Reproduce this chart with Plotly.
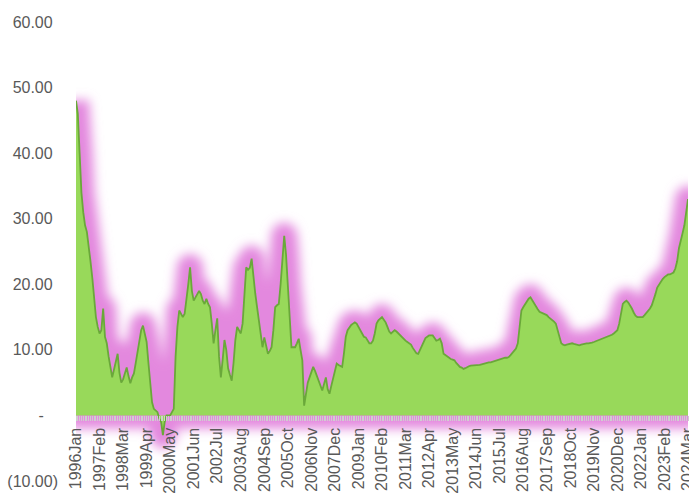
import plotly.graph_objects as go

# Monthly series, 1996Jan .. 2024Mar
month_abbr = ["Jan", "Feb", "Mar", "Apr", "May", "Jun",
              "Jul", "Aug", "Sep", "Oct", "Nov", "Dec"]
months = [f"{y}{m}" for y in range(1996, 2025) for m in month_abbr][:339]

values = [
    # 1996
    48, 46, 40, 34, 31, 29, 28, 26, 23.5, 21, 18, 15,
    # 1997
    13.5, 12.5, 13, 16.3, 12, 11, 9, 7, 5.8, 7, 8.5, 9.4,
    # 1998
    6.5, 5, 5.5, 6.5, 7.3, 6, 4.9, 5.8, 6.4, 8, 9.5, 11.5,
    # 1999
    13, 13.7, 12.5, 11.2, 8, 5, 2, 1, 0.8, 0.5, -0.5, -1,
    # 2000
    -3, -1, 0, 0, 0, 0.5, 1, 9, 13.5, 16, 15.5, 15,
    # 2001
    15.5, 17.5, 20, 22.6, 19, 17.5, 18, 18.6, 19, 18.5, 17.5, 17,
    # 2002
    17.8, 17, 16.5, 14, 11, 13, 14.8, 9, 5.8, 8.5, 11.5, 10,
    # 2003
    7.2, 6.2, 5.3, 8, 11.5, 13.5, 13, 12.5, 14, 19, 22.6, 22.2,
    # 2004
    22.5, 23.9, 21, 18.6, 16.5, 14.5, 12, 10.4, 11.9, 10.5, 9.4, 9.8,
    # 2005
    10.4, 13, 16.5, 16.8, 17, 20, 23.5, 27.4, 24.5, 20, 14, 10.4,
    # 2006
    10.4, 10.4, 11, 11.7, 10, 8.4, 1.5, 3, 5, 5.8, 6.5, 7.4,
    # 2007
    6.8, 6, 5.3, 4.5, 3.8, 4.8, 5.8, 4, 3.3, 4.5, 5.5, 6.8,
    # 2008
    7.9, 7.7, 7.5, 7.4, 9.5, 12, 13, 13.5, 13.8, 14, 14.2, 14,
    # 2009
    13.5, 13, 12.5, 12, 11.9, 11.5, 11, 11, 11.4, 12.5, 14, 14.5,
    # 2010
    14.8, 15, 14.6, 14.2, 13.5, 12.8, 12.5, 12.8, 13, 12.8, 12.5, 12.2,
    # 2011
    12, 11.7, 11.4, 11.2, 11, 10.8, 10.3, 9.9, 9.5, 9.4, 10, 10.8,
    # 2012
    11.4, 11.8, 12, 12.2, 12.2, 12.2, 11.8, 11.4, 11.5, 11.7, 11, 9.4,
    # 2013
    9.2, 9, 8.7, 8.6, 8.5, 8.4, 8, 7.6, 7.4, 7.3, 7.1, 7.2,
    # 2014
    7.4, 7.5, 7.6, 7.6, 7.6, 7.6, 7.6, 7.7, 7.8, 7.9, 8, 8,
    # 2015
    8.1, 8.1, 8.2, 8.3, 8.4, 8.4, 8.5, 8.6, 8.7, 8.8, 8.8, 8.9,
    # 2016
    9.2, 9.5, 9.8, 10.2, 11, 14, 16, 16.5, 17, 17.5, 17.8, 18,
    # 2017
    17.6, 17.2, 16.8, 16.2, 15.8, 15.7, 15.6, 15.5, 15.3, 15, 14.8, 14.6,
    # 2018
    14.3, 14, 13, 11.8, 11, 10.8, 10.7, 10.8, 10.9, 11, 11, 10.9,
    # 2019
    10.8, 10.7, 10.7, 10.8, 10.9, 11, 11, 11, 11, 11.1, 11.2, 11.3,
    # 2020
    11.5, 11.6, 11.7, 11.8, 11.9, 12, 12.1, 12.2, 12.3, 12.5, 12.7, 13,
    # 2021
    14, 15.5, 17, 17.3, 17.5, 17.2, 16.8, 16.3, 15.7, 15.2, 15, 15,
    # 2022
    15, 15, 15.3, 15.6, 16, 16.3, 16.8, 17.5, 18.5, 19.5, 20, 20.5,
    # 2023
    20.8, 21.1, 21.3, 21.5, 21.5, 21.6, 21.8, 22.4, 23.5, 25.5, 26.5, 27.8,
    # 2024
    29, 31, 33,
]

tick_labels = [
    "1996Jan", "1997Feb", "1998Mar", "1999Apr", "2000May", "2001Jun",
    "2002Jul", "2003Aug", "2004Sep", "2005Oct", "2006Nov", "2007Dec",
    "2009Jan", "2010Feb", "2011Mar", "2012Apr", "2013May", "2014Jun",
    "2015Jul", "2016Aug", "2017Sep", "2018Oct", "2019Nov", "2020Dec",
    "2022Jan", "2023Feb", "2024Mar",
]

y_ticks = [-10, 0, 10, 20, 30, 40, 50, 60]
# accounting-style labels; an invisible ")" keeps positives aligned with "(10.00)"
PAD = '<span style="color:rgba(0,0,0,0)">)</span>'
y_tick_text = ["(10.00)", '-<span style="color:rgba(0,0,0,0)">0)</span>'] + \
    [f"{v:.2f}{PAD}" for v in y_ticks[2:]]

FONT = "Liberation Sans, Arial, sans-serif"
TEXT_GREY = "#595959"

fig = go.Figure()

# Pink glow: closed outline (top edge + baseline), softened by a blur filter
glow_x = months + [months[-1], months[0], months[0]]
glow_y = values + [0, 0, values[0]]
fig.add_trace(go.Scatter(
    x=glow_x, y=glow_y, mode="lines",
    line=dict(color="#e388de", width=26, shape="linear"),
    hoverinfo="skip", showlegend=False,
))

# Green area
fig.add_trace(go.Scatter(
    x=months, y=values, mode="lines", fill="tozeroy",
    fillcolor="#98d95a",
    line=dict(color="#6aa83a", width=1.8),
    showlegend=False,
))

fig.update_layout(
    width=689, height=496,
    margin=dict(l=76, r=1, t=22, b=15),
    plot_bgcolor="white", paper_bgcolor="white",
    showlegend=False,
    xaxis=dict(
        type="category",
        range=[0, len(months) - 1],
        tickmode="array",
        tickvals=months,
        ticktext=[m if m in tick_labels else "" for m in months],
        tickangle=-90,
        ticks="outside", ticklen=5, tickcolor="#cfcfcf", tickwidth=1,
        anchor="free", position=10 / 70,
        showgrid=False, zeroline=False, showline=False,
        automargin=False,
        tickfont=dict(family=FONT, size=16, color=TEXT_GREY),
    ),
    yaxis=dict(
        range=[-10, 60],
        tickmode="array", tickvals=y_ticks, ticktext=y_tick_text,
        ticks="", showgrid=False, zeroline=False, showline=False,
        ticklabelstandoff=17,
        automargin=False,
        tickfont=dict(family=FONT, size=16, color=TEXT_GREY),
    ),
)

# Gaussian blur on the glow outline
glow_js = """
(function(){
  var gd = document.getElementById('{plot_id}');
  var svg = gd.querySelector('svg.main-svg');
  var ns = 'http://www.w3.org/2000/svg';
  var defs = svg.querySelector('defs');
  if (!defs) { defs = document.createElementNS(ns, 'defs'); svg.insertBefore(defs, svg.firstChild); }
  var f = document.createElementNS(ns, 'filter');
  f.setAttribute('id', 'glow-soft');
  f.setAttribute('x', '-20%'); f.setAttribute('y', '-20%');
  f.setAttribute('width', '140%'); f.setAttribute('height', '140%');
  var b = document.createElementNS(ns, 'feGaussianBlur');
  b.setAttribute('stdDeviation', '5.5');
  f.appendChild(b);
  defs.appendChild(f);
  var glow = gd.querySelector('.scatterlayer .trace');
  glow.querySelectorAll('path.js-line').forEach(function(p){
    p.style.strokeLinejoin = 'round';
    p.setAttribute('filter', 'url(#glow-soft)');
  });
})();
"""

fig.write_html("out.html", post_script=glow_js)
